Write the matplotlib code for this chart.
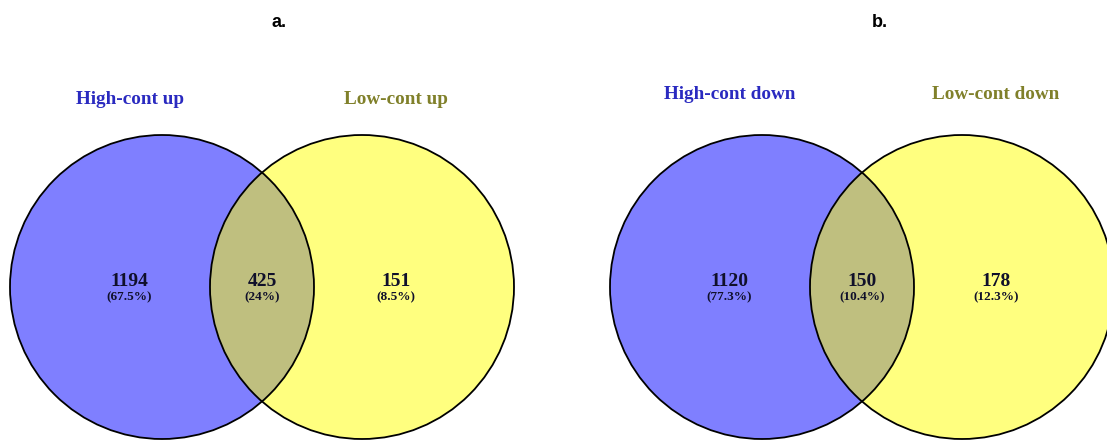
import matplotlib
matplotlib.use("Agg")
import matplotlib.pyplot as plt
from matplotlib.patches import Circle

# Two-set overlaps: (only A, both, only B)
panel_tags = ["a.", "b."]
set_a_names = ["High-cont up", "High-cont down"]
set_b_names = ["Low-cont up", "Low-cont down"]
only_a = [1194, 1120]
shared = [425, 150]
only_b = [151, 178]
pct_only_a = ["67.5%", "77.3%"]
pct_shared = ["24%", "10.4%"]
pct_only_b = ["8.5%", "12.3%"]

W, H = 1107, 443
R = 152
CY = 287
LEFT_CX = [162, 762]
RIGHT_CX = [362, 962]
TAG_X = [279, 880]
NAME_Y = [99, 94]

SERIF = "Liberation Serif"


def count_label(ax, x, n, pct):
    ax.text(x, 282, str(n), ha="center", va="center", fontsize=14,
            fontweight="bold", family=SERIF, color="#10102a")
    ax.text(x, 297, f"({pct})", ha="center", va="center", fontsize=9.5,
            fontweight="bold", family=SERIF, color="#10102a")


def main():
    fig = plt.figure(figsize=(W / 100, H / 100), dpi=100)
    ax = fig.add_axes([0, 0, 1, 1])
    ax.set_xlim(0, W)
    ax.set_ylim(H, 0)
    ax.set_aspect("equal")
    ax.axis("off")

    for i in range(2):
        lx, rx = LEFT_CX[i], RIGHT_CX[i]
        ax.add_patch(Circle((lx, CY), R, facecolor="blue", alpha=0.5,
                            edgecolor="none", zorder=1))
        ax.add_patch(Circle((rx, CY), R, facecolor="yellow", alpha=0.5,
                            edgecolor="none", zorder=2))
        for cx in (lx, rx):
            ax.add_patch(Circle((cx, CY), R, facecolor="none",
                                edgecolor="black", linewidth=1.3, zorder=3))

        count_label(ax, lx - 33, only_a[i], pct_only_a[i])
        count_label(ax, (lx + rx) / 2, shared[i], pct_shared[i])
        count_label(ax, rx + 34, only_b[i], pct_only_b[i])

        ax.text(lx - 32, NAME_Y[i], set_a_names[i], ha="center", va="center",
                fontsize=13.8, fontweight="bold", family=SERIF, color="#2a2ac0")
        ax.text(rx + 34, NAME_Y[i], set_b_names[i], ha="center", va="center",
                fontsize=13.8, fontweight="bold", family=SERIF, color="#80802a")
        ax.text(TAG_X[i], 22, panel_tags[i], ha="center", va="center",
                fontsize=13, fontweight="bold", family="Liberation Sans")

    fig.savefig("out.png", dpi=100)
    plt.close(fig)


if __name__ == "__main__":
    main()
